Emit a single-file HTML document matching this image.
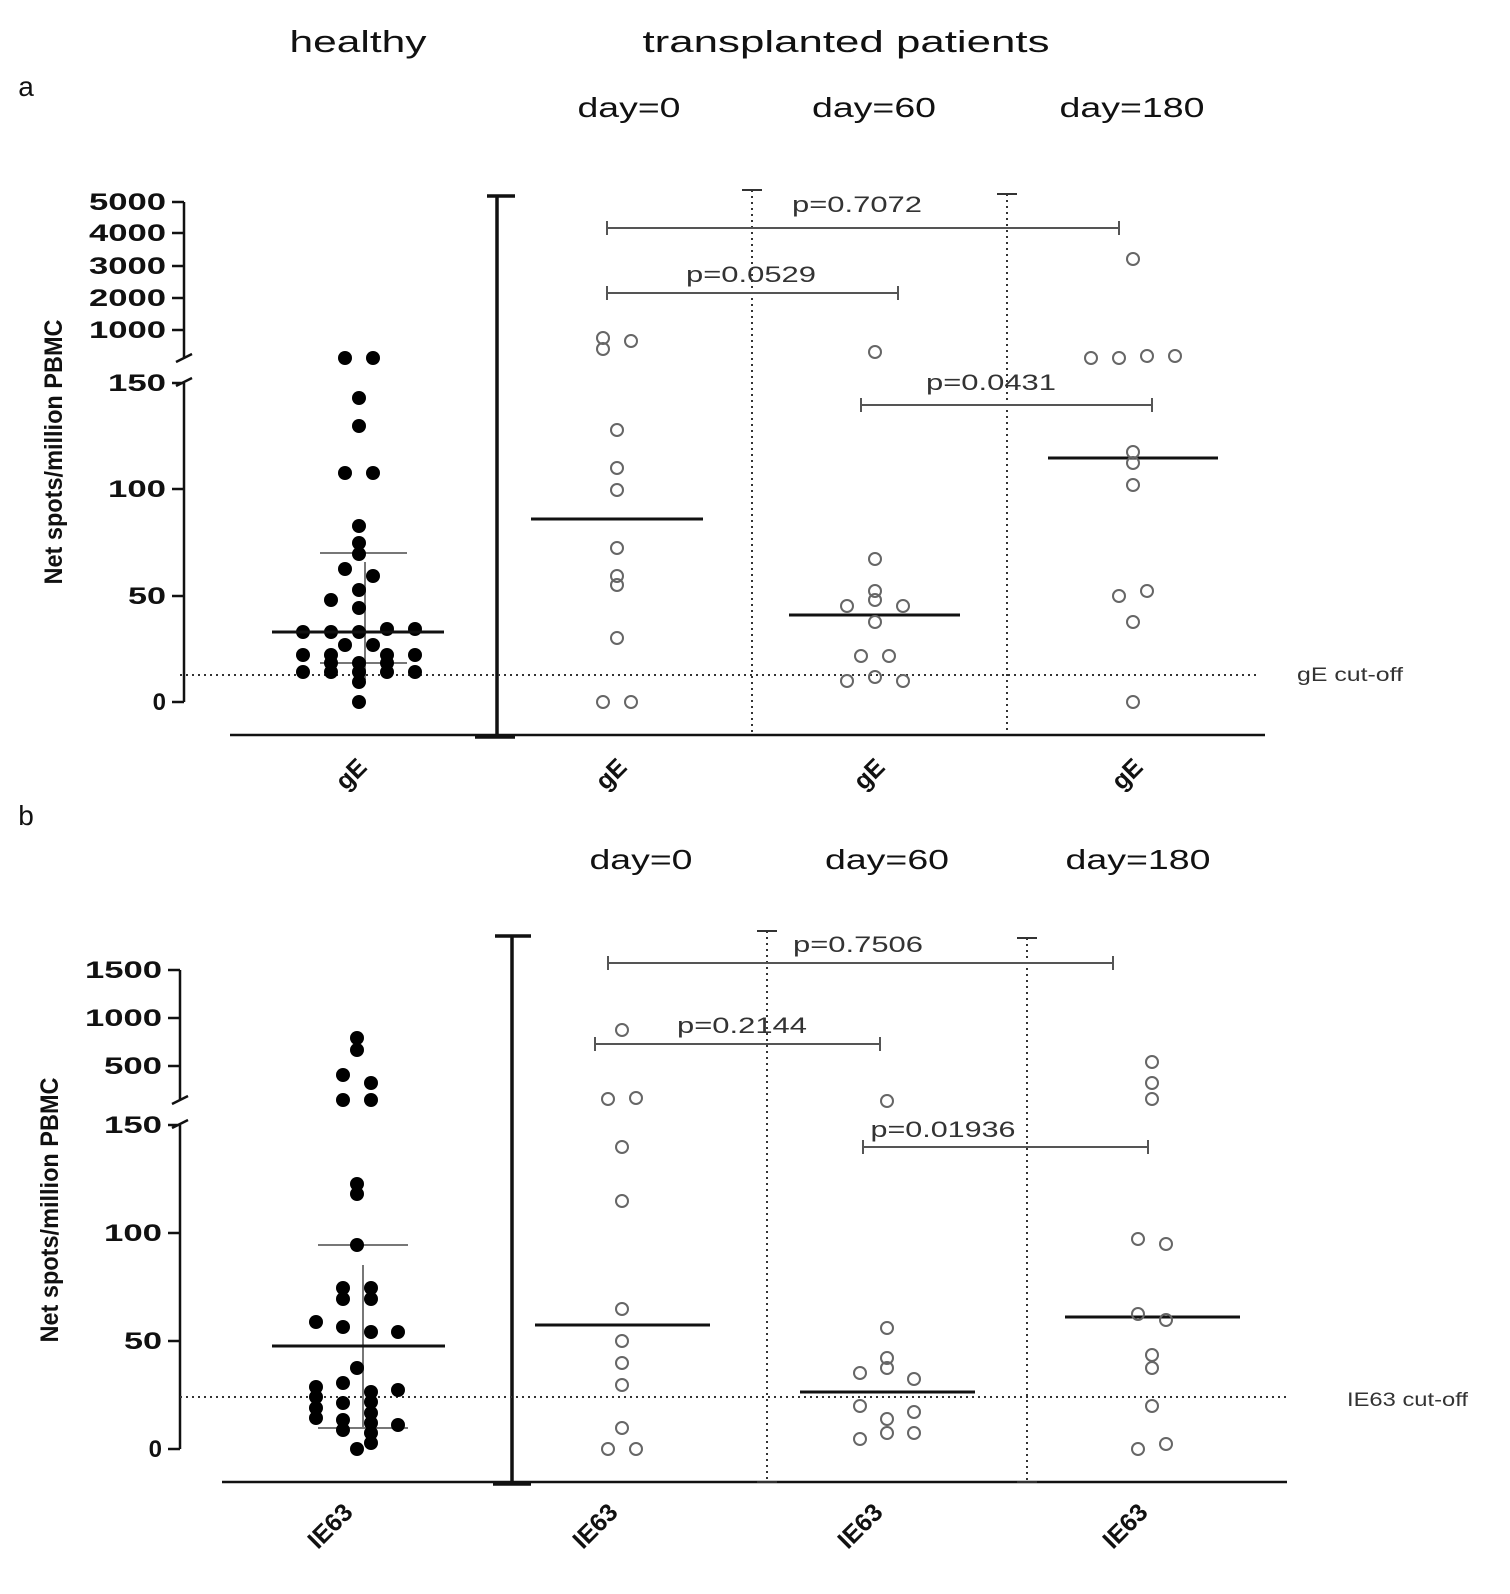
<!DOCTYPE html>
<html><head><meta charset="utf-8"><style>
html,body{margin:0;padding:0;background:#fff;overflow:hidden}
svg{display:block}
.h{font-family:"Liberation Sans",sans-serif;font-size:31px;fill:#111;text-anchor:middle}
.d{font-family:"Liberation Sans",sans-serif;font-size:28px;fill:#111;text-anchor:middle}
.t{font-family:"Liberation Sans",sans-serif;font-size:24px;font-weight:bold;fill:#111;text-anchor:end}
.p{font-family:"Liberation Sans",sans-serif;font-size:22px;fill:#333;text-anchor:middle}
.c{font-family:"Liberation Sans",sans-serif;font-size:19px;fill:#333}
.x{font-family:"Liberation Sans",sans-serif;font-size:25px;font-weight:bold;fill:#111;text-anchor:middle}
.y{font-family:"Liberation Sans Narrow","Liberation Sans",sans-serif;font-size:25px;font-weight:bold;fill:#111;text-anchor:middle}
</style></head><body>
<svg width="1510" height="1594" viewBox="0 0 1510 1594" xmlns="http://www.w3.org/2000/svg">
<text class="h" x="358" y="52" textLength="137" lengthAdjust="spacingAndGlyphs">healthy</text>
<text class="h" x="846" y="52" textLength="407" lengthAdjust="spacingAndGlyphs">transplanted patients</text>
<text class="d" x="26" y="96">a</text>
<text class="d" x="629" y="117" textLength="103" lengthAdjust="spacingAndGlyphs">day=0</text>
<text class="d" x="874" y="117" textLength="124" lengthAdjust="spacingAndGlyphs">day=60</text>
<text class="d" x="1132" y="117" textLength="145" lengthAdjust="spacingAndGlyphs">day=180</text>
<text class="y" transform="translate(62,452) rotate(-90)" textLength="265" lengthAdjust="spacingAndGlyphs">Net spots/million PBMC</text>
<g stroke="#111" stroke-width="2.5" fill="none">
<path d="M184 202V358M184 383V702M172 202H184M172 233H184M172 266H184M172 298H184M172 330H184M172 383H184M172 489H184M172 596H184M172 702H184M176 362L192 354M176 386L192 378"/>
<path d="M230 735H1265"/>
<path d="M497 196V737M487 196H515M475 737H515" stroke-width="3.5"/>
</g>
<g class="t"><text x="166" y="210" textLength="77" lengthAdjust="spacingAndGlyphs">5000</text><text x="166" y="241" textLength="77" lengthAdjust="spacingAndGlyphs">4000</text><text x="166" y="274" textLength="77" lengthAdjust="spacingAndGlyphs">3000</text><text x="166" y="306" textLength="77" lengthAdjust="spacingAndGlyphs">2000</text><text x="166" y="338" textLength="77" lengthAdjust="spacingAndGlyphs">1000</text><text x="166" y="391" textLength="58" lengthAdjust="spacingAndGlyphs">150</text><text x="166" y="497" textLength="58" lengthAdjust="spacingAndGlyphs">100</text><text x="166" y="604" textLength="38" lengthAdjust="spacingAndGlyphs">50</text><text x="166" y="710">0</text></g>
<g stroke="#333" stroke-width="2" stroke-dasharray="2,4" fill="none">
<path d="M752 190V732M1007 194V730M180 675H1260"/></g>
<path d="M742 190H762M997 194H1017" stroke="#333" stroke-width="2"/>
<text class="c" x="1297" y="681" textLength="106" lengthAdjust="spacingAndGlyphs">gE cut-off</text>
<g stroke="#555" stroke-width="2" fill="none">
<path d="M607 228H1119M607 221V235M1119 221V235M607 293H898M607 286V300M898 286V300M861 405H1152M861 398V412M1152 398V412"/></g>
<g class="p"><text x="857" y="212" textLength="130" lengthAdjust="spacingAndGlyphs">p=0.7072</text><text x="751" y="282" textLength="130" lengthAdjust="spacingAndGlyphs">p=0.0529</text><text x="991" y="390" textLength="130" lengthAdjust="spacingAndGlyphs">p=0.0431</text></g>
<g class="x"><text transform="translate(357,780) rotate(-45)">gE</text><text transform="translate(617,780) rotate(-45)">gE</text><text transform="translate(875,780) rotate(-45)">gE</text><text transform="translate(1133,780) rotate(-45)">gE</text></g>
<g stroke="#777" stroke-width="2"><path d="M365 562V680M320 553H407M320 663H407"/></g>
<g fill="#000">
<circle cx="345" cy="358" r="7"/><circle cx="373" cy="358" r="7"/><circle cx="359" cy="398" r="7"/><circle cx="359" cy="426" r="7"/><circle cx="345" cy="473" r="7"/><circle cx="373" cy="473" r="7"/><circle cx="359" cy="526" r="7"/><circle cx="359" cy="543" r="7"/><circle cx="359" cy="554" r="7"/><circle cx="345" cy="569" r="7"/><circle cx="373" cy="576" r="7"/><circle cx="359" cy="590" r="7"/><circle cx="331" cy="600" r="7"/><circle cx="359" cy="608" r="7"/>
<circle cx="303" cy="632" r="7"/><circle cx="331" cy="632" r="7"/><circle cx="359" cy="632" r="7"/><circle cx="387" cy="629" r="7"/><circle cx="415" cy="629" r="7"/>
<circle cx="345" cy="645" r="7"/><circle cx="373" cy="645" r="7"/>
<circle cx="303" cy="655" r="7"/><circle cx="331" cy="655" r="7"/><circle cx="387" cy="655" r="7"/><circle cx="415" cy="655" r="7"/>
<circle cx="331" cy="663" r="7"/><circle cx="359" cy="663" r="7"/><circle cx="387" cy="663" r="7"/>
<circle cx="303" cy="672" r="7"/><circle cx="331" cy="672" r="7"/><circle cx="359" cy="672" r="7"/><circle cx="387" cy="672" r="7"/><circle cx="415" cy="672" r="7"/>
<circle cx="359" cy="682" r="7"/><circle cx="359" cy="702" r="7"/>
</g>
<g stroke="#111" stroke-width="3"><path d="M272 632H444M531 519H703M789 615H960M1048 458H1218"/></g>
<g fill="none" stroke="#666" stroke-width="2">
<circle cx="603" cy="338" r="6"/><circle cx="631" cy="341" r="6"/><circle cx="603" cy="349" r="6"/><circle cx="617" cy="430" r="6"/><circle cx="617" cy="468" r="6"/><circle cx="617" cy="490" r="6"/><circle cx="617" cy="548" r="6"/><circle cx="617" cy="576" r="6"/><circle cx="617" cy="585" r="6"/><circle cx="617" cy="638" r="6"/><circle cx="603" cy="702" r="6"/><circle cx="631" cy="702" r="6"/>
<circle cx="875" cy="352" r="6"/><circle cx="875" cy="559" r="6"/><circle cx="875" cy="591" r="6"/><circle cx="847" cy="606" r="6"/><circle cx="903" cy="606" r="6"/><circle cx="875" cy="600" r="6"/><circle cx="875" cy="622" r="6"/><circle cx="861" cy="656" r="6"/><circle cx="889" cy="656" r="6"/><circle cx="847" cy="681" r="6"/><circle cx="875" cy="677" r="6"/><circle cx="903" cy="681" r="6"/>
<circle cx="1091" cy="358" r="6"/><circle cx="1119" cy="358" r="6"/><circle cx="1147" cy="356" r="6"/><circle cx="1175" cy="356" r="6"/><circle cx="1133" cy="259" r="6"/><circle cx="1133" cy="452" r="6"/><circle cx="1133" cy="463" r="6"/><circle cx="1133" cy="485" r="6"/><circle cx="1119" cy="596" r="6"/><circle cx="1147" cy="591" r="6"/><circle cx="1133" cy="622" r="6"/><circle cx="1133" cy="702" r="6"/>
</g>

<text class="d" x="26" y="825">b</text>
<text class="d" x="641" y="869" textLength="103" lengthAdjust="spacingAndGlyphs">day=0</text>
<text class="d" x="887" y="869" textLength="124" lengthAdjust="spacingAndGlyphs">day=60</text>
<text class="d" x="1138" y="869" textLength="145" lengthAdjust="spacingAndGlyphs">day=180</text>
<text class="y" transform="translate(58,1210) rotate(-90)" textLength="265" lengthAdjust="spacingAndGlyphs">Net spots/million PBMC</text>
<g stroke="#111" stroke-width="2.5" fill="none">
<path d="M180 970V1100M180 1125V1449M168 970H180M168 1018H180M168 1066H180M168 1125H180M168 1233H180M168 1341H180M168 1449H180M172 1104L188 1096M172 1128L188 1120"/>
<path d="M222 1482H1287"/>
<path d="M512 936V1484M495 936H531M493 1484H531" stroke-width="3.5"/>
</g>
<g class="t"><text x="162" y="978" textLength="77" lengthAdjust="spacingAndGlyphs">1500</text><text x="162" y="1026" textLength="77" lengthAdjust="spacingAndGlyphs">1000</text><text x="162" y="1074" textLength="58" lengthAdjust="spacingAndGlyphs">500</text><text x="162" y="1133" textLength="58" lengthAdjust="spacingAndGlyphs">150</text><text x="162" y="1241" textLength="58" lengthAdjust="spacingAndGlyphs">100</text><text x="162" y="1349" textLength="38" lengthAdjust="spacingAndGlyphs">50</text><text x="162" y="1457">0</text></g>
<g stroke="#333" stroke-width="2" stroke-dasharray="2,4" fill="none">
<path d="M767 931V1482M1027 938V1482M180 1397H1287"/></g>
<path d="M757 931H777M1017 938H1037M757 1482H777M1017 1482H1037" stroke="#333" stroke-width="2"/>
<text class="c" x="1347" y="1406" textLength="121" lengthAdjust="spacingAndGlyphs">IE63 cut-off</text>
<g stroke="#555" stroke-width="2" fill="none">
<path d="M608 963H1113M608 956V970M1113 956V970M595 1044H880M595 1037V1051M880 1037V1051M863 1147H1148M863 1140V1154M1148 1140V1154"/></g>
<g class="p"><text x="858" y="952" textLength="130" lengthAdjust="spacingAndGlyphs">p=0.7506</text><text x="742" y="1033" textLength="130" lengthAdjust="spacingAndGlyphs">p=0.2144</text><text x="943" y="1137" textLength="145" lengthAdjust="spacingAndGlyphs">p=0.01936</text></g>
<g class="x"><text transform="translate(336,1532) rotate(-45)">IE63</text><text transform="translate(601,1532) rotate(-45)">IE63</text><text transform="translate(866,1532) rotate(-45)">IE63</text><text transform="translate(1131,1532) rotate(-45)">IE63</text></g>
<g stroke="#777" stroke-width="2"><path d="M363 1265V1428M318 1245H408M318 1428H408"/></g>
<g fill="#000">
<circle cx="357" cy="1038" r="7"/><circle cx="357" cy="1050" r="7"/><circle cx="343" cy="1075" r="7"/><circle cx="371" cy="1083" r="7"/><circle cx="343" cy="1100" r="7"/><circle cx="371" cy="1100" r="7"/><circle cx="357" cy="1184" r="7"/><circle cx="357" cy="1194" r="7"/><circle cx="357" cy="1245" r="7"/>
<circle cx="343" cy="1288" r="7"/><circle cx="371" cy="1288" r="7"/><circle cx="343" cy="1299" r="7"/><circle cx="371" cy="1299" r="7"/>
<circle cx="316" cy="1322" r="7"/><circle cx="343" cy="1327" r="7"/><circle cx="371" cy="1332" r="7"/><circle cx="398" cy="1332" r="7"/>
<circle cx="357" cy="1368" r="7"/><circle cx="343" cy="1383" r="7"/>
<circle cx="316" cy="1387" r="7"/><circle cx="316" cy="1397" r="7"/><circle cx="316" cy="1408" r="7"/><circle cx="316" cy="1418" r="7"/>
<circle cx="343" cy="1403" r="7"/><circle cx="343" cy="1420" r="7"/><circle cx="343" cy="1430" r="7"/>
<circle cx="371" cy="1392" r="7"/><circle cx="371" cy="1402" r="7"/><circle cx="371" cy="1413" r="7"/><circle cx="371" cy="1423" r="7"/><circle cx="371" cy="1433" r="7"/><circle cx="371" cy="1443" r="7"/>
<circle cx="398" cy="1390" r="7"/><circle cx="398" cy="1425" r="7"/><circle cx="357" cy="1449" r="7"/>
</g>
<g stroke="#111" stroke-width="3"><path d="M272 1346H445M535 1325H710M800 1392H975M1065 1317H1240"/></g>
<g fill="none" stroke="#666" stroke-width="2">
<circle cx="622" cy="1030" r="6"/><circle cx="608" cy="1099" r="6"/><circle cx="636" cy="1098" r="6"/><circle cx="622" cy="1147" r="6"/><circle cx="622" cy="1201" r="6"/><circle cx="622" cy="1309" r="6"/><circle cx="622" cy="1341" r="6"/><circle cx="622" cy="1363" r="6"/><circle cx="622" cy="1385" r="6"/><circle cx="622" cy="1428" r="6"/><circle cx="608" cy="1449" r="6"/><circle cx="636" cy="1449" r="6"/>
<circle cx="887" cy="1101" r="6"/><circle cx="887" cy="1328" r="6"/><circle cx="860" cy="1373" r="6"/><circle cx="887" cy="1358" r="6"/><circle cx="887" cy="1368" r="6"/><circle cx="914" cy="1379" r="6"/><circle cx="860" cy="1406" r="6"/><circle cx="914" cy="1412" r="6"/><circle cx="887" cy="1419" r="6"/><circle cx="860" cy="1439" r="6"/><circle cx="887" cy="1433" r="6"/><circle cx="914" cy="1433" r="6"/>
<circle cx="1152" cy="1062" r="6"/><circle cx="1152" cy="1083" r="6"/><circle cx="1152" cy="1099" r="6"/><circle cx="1138" cy="1239" r="6"/><circle cx="1166" cy="1244" r="6"/><circle cx="1138" cy="1314" r="6"/><circle cx="1166" cy="1320" r="6"/><circle cx="1152" cy="1355" r="6"/><circle cx="1152" cy="1368" r="6"/><circle cx="1152" cy="1406" r="6"/><circle cx="1138" cy="1449" r="6"/><circle cx="1166" cy="1444" r="6"/>
</g>
</svg>
</body></html>
